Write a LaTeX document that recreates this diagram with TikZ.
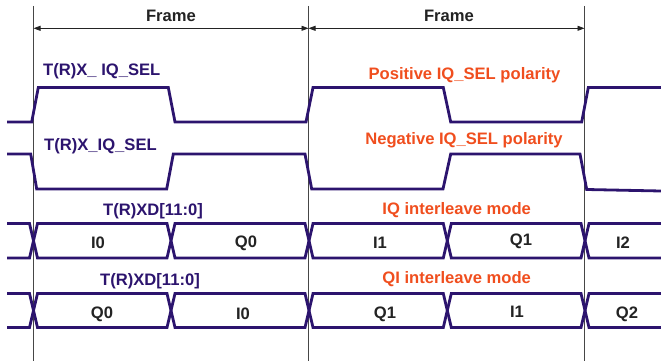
\documentclass[tikz,border=0pt]{standalone}
\usepackage{fontspec}
\setmainfont{Liberation Sans}
\usetikzlibrary{arrows.meta}
\definecolor{wave}{RGB}{44,20,110}
\definecolor{hot}{RGB}{240,78,30}
\definecolor{ink}{RGB}{35,35,35}
\definecolor{rule}{RGB}{70,70,70}
\tikzset{
  wv/.style={draw=wave,line width=2.8pt,line join=miter},
  vrule/.style={draw=rule,line width=0.8pt},
  dimarrow/.style={draw=ink,line width=0.8pt,{Triangle[length=7pt,width=5pt]}-{Triangle[length=7pt,width=5pt]}},
  lbl/.style={font=\fontsize{16.6}{18}\selectfont\bfseries,inner sep=0pt},
  plbl/.style={lbl,text=wave},
  olbl/.style={lbl,text=hot},
  klbl/.style={lbl,text=ink},
}
\begin{document}
\begin{tikzpicture}[x=1pt,y=-1pt]
\useasboundingbox (0,0) rectangle (661,361);
% vertical frame boundaries
\coordinate (atop) at (33.5,6);   \coordinate (abot) at (33.5,361);  \coordinate (adim) at (33.5,28.3);
\coordinate (btop) at (308.5,6);  \coordinate (bbot) at (308.5,361); \coordinate (bdim) at (308.5,28.3);
\coordinate (ctop) at (584.5,6);  \coordinate (cbot) at (584.5,361); \coordinate (cdim) at (584.5,28.3);
\draw[vrule] (atop) -- (abot);
\draw[vrule] (btop) -- (bbot);
\draw[vrule] (ctop) -- (cbot);
\draw[dimarrow] (adim) -- (bdim);
\draw[dimarrow] (bdim) -- (cdim);
\node[klbl] (f1) at (171,16) {Frame};
\node[klbl] (f2) at (449,16) {Frame};

% positive IQ_SEL
\draw[wv] (7,122) -- (31.7,122) -- (38.3,87.5) -- (168.3,87.5) -- (175,122) -- (306,122)
  -- (313,87.5) -- (443.3,87.5) -- (450.7,122) -- (581.7,122) -- (588.3,87.5) -- (661,87.5);
% negative IQ_SEL
\draw[wv] (7,154) -- (30.7,154) -- (36.7,189) -- (166.7,189) -- (173.3,154) -- (305,154)
  -- (311.7,189) -- (443,189) -- (450.7,154) -- (580,154) -- (586.7,189.5) -- (661,191);

% buses
\foreach \t/\b in {223.5/258, 293.5/327.5}{
  \pgfmathsetmacro{\m}{(\t+\b)/2}
  \draw[wv] (7,\t) -- (29.5,\t) -- (33.5,\m) -- (29.5,\b) -- (7,\b);
  \foreach \l/\r in {33.5/171, 171/309, 309/447.3, 447.3/585}{
    \draw[wv] (\l,\m) -- (\l+4,\t) -- (\r-4,\t) -- (\r,\m) -- (\r-4,\b) -- (\l+4,\b) -- cycle;
  }
  \draw[wv] (661,\t) -- (589,\t) -- (585,\m) -- (589,\b) -- (661,\b);
}

% labels
\node[plbl,anchor=west] (s1) at (43,71) {T(R)X\_ IQ\_SEL};
\node[plbl,anchor=west] (s2) at (44,146) {T(R)X\_IQ\_SEL};
\node[olbl] (p1) at (464.5,75) {Positive IQ\_SEL polarity};
\node[olbl] (p2) at (464,140) {Negative IQ\_SEL polarity};
\node[plbl] (d1) at (153,211) {T(R)XD[11:0]};
\node[plbl] (d2) at (150,281) {T(R)XD[11:0]};
\node[olbl] (m1) at (456.7,210.5) {IQ interleave mode};
\node[olbl] (m2) at (456.7,279.5) {QI interleave mode};

\node[klbl] (b1) at (98,243) {I0};
\node[klbl] (b2) at (246,243) {Q0};
\node[klbl] (b3) at (380,243) {I1};
\node[klbl] (b4) at (521,241) {Q1};
\node[klbl] (b5) at (623,243) {I2};
\node[klbl] (c1) at (102,314) {Q0};
\node[klbl] (c2) at (243,314) {I0};
\node[klbl] (c3) at (385,314) {Q1};
\node[klbl] (c4) at (517,312) {I1};
\node[klbl] (c5) at (627,314) {Q2};
\end{tikzpicture}
\end{document}
